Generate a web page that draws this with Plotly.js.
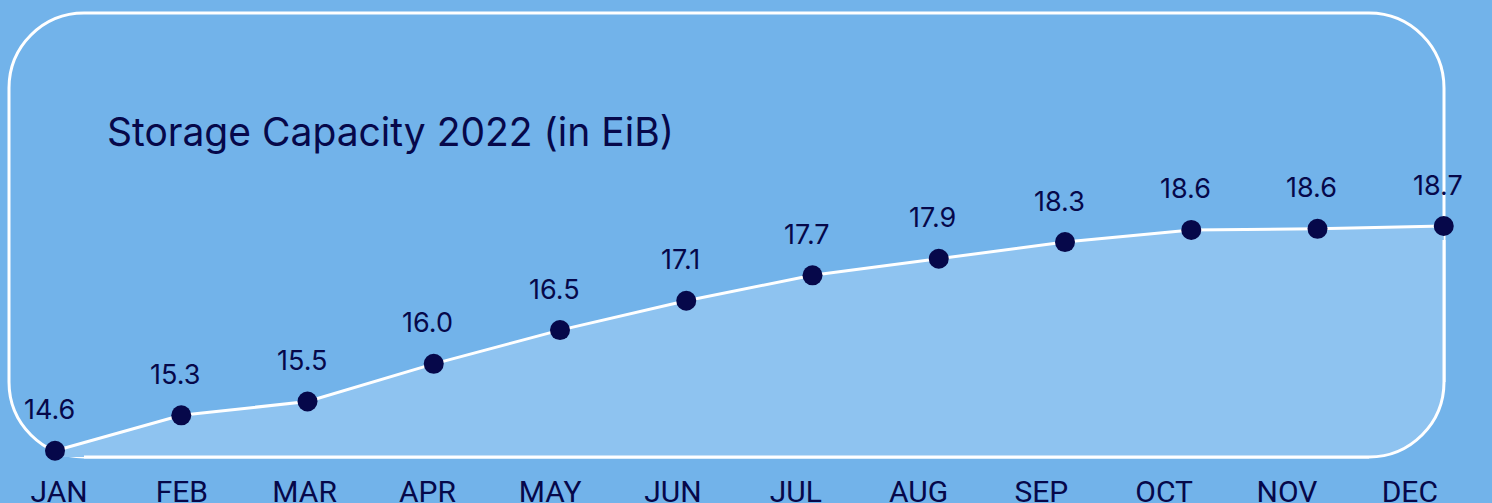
<!DOCTYPE html>
<html>
<head>
<meta charset="utf-8">
<script src="https://cdn.plot.ly/plotly-3.0.1.min.js"></script>
<style>
  html, body { margin: 0; padding: 0; background: #72b3ea; }
  #chart { width: 1492px; height: 503px; }
</style>
</head>
<body>
<div id="chart"></div>
<script>
// ---- Data ----
const months = ['JAN', 'FEB', 'MAR', 'APR', 'MAY', 'JUN', 'JUL', 'AUG', 'SEP', 'OCT', 'NOV', 'DEC'];
// plotted positions (EiB)
const capacity = [14.53, 15.17, 15.42, 16.10, 16.71, 17.24, 17.70, 18.00, 18.30, 18.52, 18.54, 18.59];
// value labels as printed on the chart
const capacityLabels = ['14.6', '15.3', '15.5', '16.0', '16.5', '17.1', '17.7', '17.9', '18.3', '18.6', '18.6', '18.7'];
const chartTitle = 'Storage Capacity 2022 (in EiB)';

// ---- Styling ----
const BG = '#72b3ea';
const FILL = '#8ec3f0';
const NAVY = '#06084a';
const W = 1492, H = 503;
const M = { l: 9, r: 48, t: 13, b: 46 };
const PW = W - M.l - M.r, PH = H - M.t - M.b;

const yRange = [14.4175, 22.439];
const xRange = [-0.3644, 11.002];      // data axis
const xLabelRange = [-0.4072, 11.2785]; // month label axis (labels are spaced slightly tighter)
const monthIndex = months.map((m, i) => i);

// rounded box (paper coords = plot area)
const R = 75;
const rx = R / PW, ry = R / PH, k = 0.5523;
const boxPath =
  `M ${rx},0 L ${1 - rx},0 C ${1 - rx + rx * k},0 1,${ry - ry * k} 1,${ry} ` +
  `L 1,${1 - ry} C 1,${1 - ry + ry * k} ${1 - rx + rx * k},1 ${1 - rx},1 ` +
  `L ${rx},1 C ${rx - rx * k},1 0,${1 - ry + ry * k} 0,${1 - ry} ` +
  `L 0,${ry} C 0,${ry - ry * k} ${rx - rx * k},0 ${rx},0 Z`;

const ex = 6 / PW, ey = 6 / PH;
const maskPath =
  `M 1,${ry} C 1,${ry - ry * k} ${1 - rx + rx * k},0 ${1 - rx},0 ` +
  `L ${1 - rx},${-ey} L ${1 + ex},${-ey} L ${1 + ex},${ry} Z`;

const lastPaperY = (capacity[capacity.length - 1] - yRange[0]) / (yRange[1] - yRange[0]);
const ys = lastPaperY - 14 / PH;
const strokePath =
  `M 1,${ys} L 1,${ry} C 1,${ry - ry * k} ${1 - rx + rx * k},0 ${1 - rx},0 L ${rx},0`;

const traces = [
  {
    x: months, y: capacity, type: 'scatter', mode: 'lines',
    line: { color: '#ffffff', width: 3 },
    fill: 'tozeroy', fillcolor: FILL,
    hoverinfo: 'skip', showlegend: false
  },
  {
    x: months, y: capacity, type: 'scatter', mode: 'markers',
    marker: { color: NAVY, size: 20 },
    cliponaxis: false, showlegend: false
  },
  {
    // carrier for the month-label axis (invisible)
    x: monthIndex, y: capacity, xaxis: 'x2', yaxis: 'y',
    type: 'scatter', mode: 'markers',
    marker: { opacity: 0, size: 1 },
    hoverinfo: 'skip', showlegend: false
  }
];

const annotations = months.map((m, i) => ({
  x: m, y: capacity[i], xref: 'x', yref: 'y',
  text: capacityLabels[i], showarrow: false,
  xanchor: 'center', yanchor: 'middle', yshift: 41, xshift: -6,
  font: { family: 'Inter, "Liberation Sans", sans-serif', size: 27, color: NAVY }
}));

const layout = {
  width: W, height: H,
  margin: M,
  paper_bgcolor: BG, plot_bgcolor: 'rgba(0,0,0,0)',
  showlegend: false,
  title: {
    text: chartTitle,
    font: { family: 'Inter, "Liberation Sans", sans-serif', size: 39, color: NAVY },
    xref: 'container', yref: 'container',
    x: 107 / W, xanchor: 'left',
    y: 1 - 132 / H, yanchor: 'middle'
  },
  xaxis: {
    type: 'category', range: xRange,
    showgrid: false, zeroline: false, showline: false, ticks: '',
    showticklabels: false,
    fixedrange: true
  },
  xaxis2: {
    overlaying: 'x', anchor: 'y', side: 'bottom',
    range: xLabelRange,
    tickmode: 'array',
    tickvals: monthIndex,
    ticktext: months,
    showgrid: false, zeroline: false, showline: false, ticks: '',
    tickfont: { family: 'Roboto, sans-serif', size: 30, color: NAVY },
    ticklabelstandoff: 14,
    fixedrange: true
  },
  yaxis: {
    range: yRange, visible: false, showgrid: false, zeroline: false, fixedrange: true
  },
  shapes: [
    { type: 'path', xref: 'paper', yref: 'paper', path: boxPath, layer: 'below',
      line: { color: '#ffffff', width: 3 }, fillcolor: 'rgba(0,0,0,0)' },
    { type: 'path', xref: 'paper', yref: 'paper', path: maskPath, layer: 'above',
      line: { width: 0 }, fillcolor: BG },
    { type: 'path', xref: 'paper', yref: 'paper', path: strokePath, layer: 'above',
      line: { color: '#ffffff', width: 3 }, fillcolor: 'rgba(0,0,0,0)' }
  ],
  annotations: annotations
};

Plotly.newPlot('chart', traces, layout, { displayModeBar: false, staticPlot: true });
</script>
</body>
</html>
